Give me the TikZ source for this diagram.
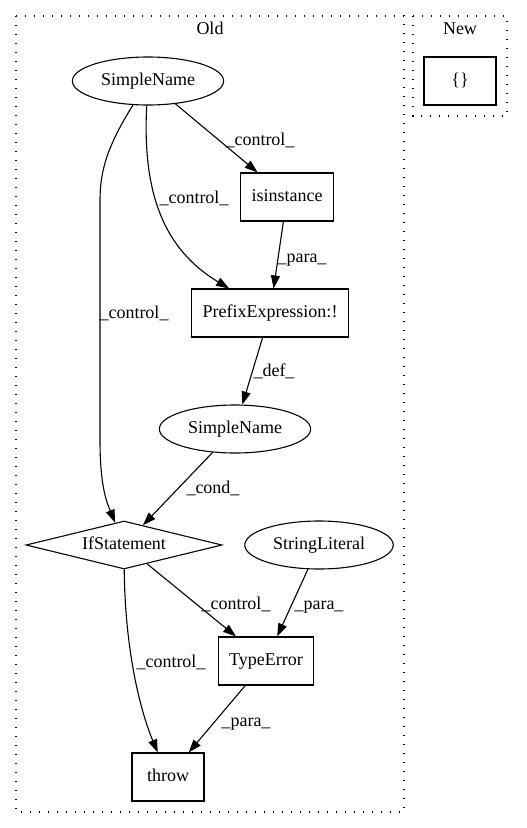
\documentclass[tikz,border=0pt]{standalone}
\usepackage{fontspec}
\setmainfont{Liberation Serif}
\usetikzlibrary{shapes.geometric,arrows.meta}

\tikzset{
  every node/.style={font=\fontsize{18}{20}\selectfont, text height=12.5pt, text depth=4pt},
  gbox/.style={draw, rectangle, line width=1.1pt, minimum width=72pt, minimum height=48pt, inner xsep=11pt},
  gell/.style={draw, ellipse, line width=1.1pt, minimum height=48pt, inner xsep=6.5pt},
  gdia/.style={draw, diamond, line width=1.1pt, shape aspect=4, minimum width=196pt, minimum height=48pt, inner sep=0pt},
  cluster/.style={line width=1.3pt, dash pattern=on 1.4pt off 7.6pt},
  edge/.style={line width=1.1pt, -{Triangle[length=13pt,width=9pt]}},
  lbl/.style={anchor=base}
}

\begin{document}
\begin{tikzpicture}[x=1pt, y=-1pt]
    \useasboundingbox (0,0) rectangle (527,828);

    % clusters
    \draw[cluster] (16,16) rectangle (404,812);
    \draw[cluster] (413,16) rectangle (507,116);
    \node (old) at (210,30) {Old};
    \node (new) at (460,30) {New};

    \node[gbox] (empty) at (460,81) {\{\}};

    \node[gell] (sn1) at (148,81) {SimpleName};
    \node[gbox] (isin) at (287,197) {isinstance};
    \node[gbox] (prefix) at (270,313) {PrefixExpression:!};
    \node[gell] (sn2) at (235,429) {SimpleName};
    \node[gdia] (ifst) at (124,545) {IfStatement};
    \node[gell] (strlit) at (319,545) {StringLiteral};
    \node[gbox] (typeerr) at (266,661) {TypeError};
    \node[gbox] (throw) at (168,777) {throw};

    \draw[edge] (sn1) -- (isin);
    \draw[edge] (sn1) .. controls (142,195) and (165,250) .. (prefix);
    \draw[edge] (sn1) .. controls (108,145) and (100,170) .. (100,200)
        -- (100,440) .. controls (100,490) and (108,505) .. (ifst);
    \draw[edge] (isin) -- (prefix);
    \draw[edge] (prefix) -- (sn2);
    \draw[edge] (sn2) -- (ifst);
    \draw[edge] (ifst) -- (typeerr);
    \draw[edge] (strlit) -- (typeerr);
    \draw[edge] (ifst) .. controls (125,650) and (140,710) .. (throw);
    \draw[edge] (typeerr) -- (throw);

    \node[lbl] (l1) at (260,145) {\_control\_};
    \node[lbl] (l2) at (194,203) {\_control\_};
    \node[lbl] (l3) at (302,262) {\_para\_};
    \node[lbl] (l4) at (134,318) {\_control\_};
    \node[lbl] (l5) at (274,376) {\_def\_};
    \node[lbl] (l6) at (213,493) {\_cond\_};
    \node[lbl] (l7) at (236,609) {\_control\_};
    \node[lbl] (l8) at (319,609) {\_para\_};
    \node[lbl] (l9) at (171,667) {\_control\_};
    \node[lbl] (l10) at (246,726) {\_para\_};
\end{tikzpicture}
\end{document}
